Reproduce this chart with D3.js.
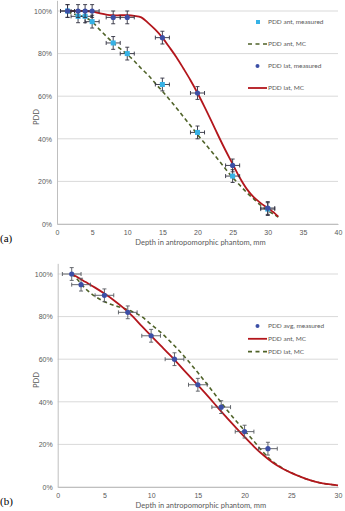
<!DOCTYPE html>
<html>
<head>
<meta charset="utf-8">
<script src="https://cdn.jsdelivr.net/npm/d3@7"></script>
<style>
  body { margin: 0; background: #fff; }
  svg { display: block; font-family: Lato, "Open Sans", sans-serif; }
  .grid line { stroke: #d9d9d9; stroke-width: 1; }
  .tick text { fill: #595959; }
</style>
</head>
<body>
<svg id="chart" width="345" height="511"></svg>
<script>
// ---- panel (a) ----
var depthA   = [1.5, 3, 4, 5, 8, 10, 15, 20, 25, 30];
var antMeasA = [100, 97.5, 97.5, 95, 85, 80, 65.5, 43, 22.5, 7];
var latMeasA = [100, 100, 100, 100, 97, 97, 87.5, 61.5, 27.5, 7.5];
var mcDepthA = [1.5, 2, 3, 4, 5, 6, 7, 8, 9, 10, 11, 12, 13, 14, 15, 16, 17, 18, 19, 20,
                21, 22, 23, 24, 25, 26, 27, 28, 29, 30, 31, 31.5];
var antMcA   = [99.5, 99, 98, 97, 95, 91.5, 88.2, 85, 82.3, 79.6, 76.5, 73, 69.8, 66, 62.3, 58.5, 54.5, 50.3, 46.2, 42,
                38, 34, 30, 25.8, 21.8, 18.3, 14.8, 11.8, 8.8, 6.3, 4.3, 3.2];
var latMcA   = [100, 100, 100, 100, 99.7, 99, 98.3, 98, 98, 98, 97.7, 97, 94.3, 91.2, 87.5, 83, 78.3, 73, 67.5, 61.5,
                55, 48.2, 41.2, 34.5, 28.2, 21.8, 16.5, 12.6, 9.8, 7.5, 5, 3.5];
var xTicksA  = [0, 5, 10, 15, 20, 25, 30, 35, 40];

// ---- panel (b) ----
var depthB   = [1.5, 2.5, 5, 7.5, 10, 12.5, 15, 17.5, 20, 22.5];
var avgMeasB = [100, 95, 90, 82, 71, 60, 48, 37.5, 26, 18];
var mcDepthB = [1.5, 2, 3, 4, 5, 6, 7, 8, 9, 10, 11, 12, 13, 14, 15, 16, 17, 18, 19, 20,
                21, 22, 23, 24, 25, 26, 27, 28, 29, 30];
var antMcB   = [100, 98.8, 96.2, 93.6, 90.8, 87.7, 84.2, 80.2, 75.5, 71, 66.5, 62, 57.3, 52.5, 47.8, 43, 38, 33, 28.2, 23.5,
                19, 15, 11.5, 8.8, 6.6, 4.8, 3.2, 2, 1.3, 0.8];
var latMcB   = [100, 98, 93, 89.5, 87, 85.3, 84, 82.3, 80, 76.3, 72.7, 68.5, 64, 59, 53.7, 48.2, 42.5, 36.8, 31.5, 26.5,
                21.5, 16.3, 12, 9, 6.7, 4.8, 3.2, 2, 1.3, 0.8];
var xTicksB  = [0, 5, 10, 15, 20, 25, 30];

var yTicks = [0, 20, 40, 60, 80, 100];
var xErr = 1, yErr = 3;

var cyan = "#36b2e6", navy = "#3c4fa6", red = "#b3161c", olive = "#4f6228";

var svg = d3.select("svg#chart");

function zip(xs, ys) { return xs.map(function(x, i) { return [x, ys[i]]; }); }

function panel(opt) {
  var g = svg.append("g");
  var x = d3.scaleLinear().domain(opt.xDomain).range([opt.left, opt.right]);
  var y = d3.scaleLinear().domain([0, 105]).range([opt.bottom, opt.bottom - 105 * 2.13]);

  // gridlines
  g.append("g").attr("class", "grid")
    .selectAll("line").data(yTicks).enter().append("line")
    .attr("x1", opt.left).attr("x2", opt.right)
    .attr("y1", function(d) { return y(d); }).attr("y2", function(d) { return y(d); });

  // axes
  var yAxis = d3.axisLeft(y).tickValues(yTicks).tickSize(0).tickPadding(5)
    .tickFormat(function(d) { return d + "%"; });
  g.append("g").attr("transform", "translate(" + opt.left + ",0)").call(yAxis)
    .call(function(a) { a.select(".domain").attr("stroke", "#bfbfbf"); })
    .selectAll("text").style("font-size", "7px");

  var xAxis = d3.axisBottom(x).tickValues(opt.xTicks).tickSize(0).tickPadding(6);
  g.append("g").attr("transform", "translate(0," + opt.bottom + ")").call(xAxis)
    .call(function(a) { a.select(".domain").attr("stroke", "#bfbfbf"); })
    .selectAll("text").style("font-size", "7px");

  g.append("text")
    .attr("x", (opt.left + opt.right) / 2 + 3).attr("y", opt.bottom + 21)
    .attr("text-anchor", "middle").attr("fill", "#595959").style("font-size", "7.5px")
    .text("Depth in antropomorphic phantom, mm");

  g.append("text")
    .attr("transform", "translate(39," + (opt.bottom - 107) + ") rotate(-90)")
    .attr("text-anchor", "middle").attr("fill", "#595959").style("font-size", "7.5px")
    .text("PDD");

  g.append("text")
    .attr("x", 0).attr("y", opt.bottom + 18)
    .attr("fill", "#000").style("font-family", "'Liberation Serif', serif").style("font-size", "11px")
    .text(opt.tag);

  // MC curves
  var line = d3.line().curve(d3.curveCatmullRom)
    .x(function(d) { return x(d[0]); }).y(function(d) { return y(d[1]); });

  opt.curves.forEach(function(c) {
    g.append("path").datum(zip(c.xs, c.ys))
      .attr("d", line).attr("fill", "none")
      .attr("stroke", c.color).attr("stroke-width", c.dash ? 1.6 : 1.8)
      .attr("stroke-dasharray", c.dash ? "4,3" : null);
  });

  // measured points with error bars
  opt.points.forEach(function(p) {
    var pts = zip(p.xs, p.ys);
    var eb = g.append("g").attr("stroke", opt.errColor).attr("stroke-width", 0.9);
    pts.forEach(function(d) {
      var cx = x(d[0]), cy = y(d[1]);
      var x0 = x(d[0] - xErr), x1 = x(d[0] + xErr);
      var y0 = y(d[1] - yErr), y1 = y(d[1] + yErr);
      eb.append("line").attr("x1", x0).attr("x2", x1).attr("y1", cy).attr("y2", cy);
      eb.append("line").attr("x1", x0).attr("x2", x0).attr("y1", cy - 2).attr("y2", cy + 2);
      eb.append("line").attr("x1", x1).attr("x2", x1).attr("y1", cy - 2).attr("y2", cy + 2);
      eb.append("line").attr("x1", cx).attr("x2", cx).attr("y1", y0).attr("y2", y1);
      eb.append("line").attr("x1", cx - 2).attr("x2", cx + 2).attr("y1", y0).attr("y2", y0);
      eb.append("line").attr("x1", cx - 2).attr("x2", cx + 2).attr("y1", y1).attr("y2", y1);
    });
    if (p.shape === "square") {
      g.append("g").selectAll("rect").data(pts).enter().append("rect")
        .attr("x", function(d) { return x(d[0]) - 2.5; })
        .attr("y", function(d) { return y(d[1]) - 2.5; })
        .attr("width", 5).attr("height", 5).attr("fill", p.color);
    } else {
      g.append("g").selectAll("circle").data(pts).enter().append("circle")
        .attr("cx", function(d) { return x(d[0]); })
        .attr("cy", function(d) { return y(d[1]); })
        .attr("r", 2.6).attr("fill", p.color);
    }
  });

  // legend
  var lg = g.append("g");
  opt.legend.forEach(function(l, i) {
    var ly = opt.legendTop + i * opt.legendStep;
    if (l.kind === "square") {
      lg.append("rect").attr("x", 256).attr("y", ly - 2).attr("width", 4).attr("height", 4).attr("fill", l.color);
    } else if (l.kind === "dot") {
      lg.append("circle").attr("cx", 257.5).attr("cy", ly).attr("r", 2).attr("fill", l.color);
    } else {
      lg.append("line").attr("x1", 248).attr("x2", 267).attr("y1", ly).attr("y2", ly)
        .attr("stroke", l.color).attr("stroke-width", l.kind === "dash" ? 1.6 : 1.8)
        .attr("stroke-dasharray", l.kind === "dash" ? "4,3.5" : null);
    }
    lg.append("text").attr("x", 268).attr("y", ly).attr("dy", "0.33em")
      .attr("fill", "#595959").style("font-size", "6.5px").text(l.label);
  });
}

panel({
  tag: "(a)", xDomain: [0, 40], xTicks: xTicksA,
  left: 57, right: 338, bottom: 224, errColor: "#303040",
  curves: [
    { xs: mcDepthA, ys: antMcA, color: olive, dash: true },
    { xs: mcDepthA, ys: latMcA, color: red, dash: false }
  ],
  points: [
    { xs: depthA, ys: antMeasA, color: cyan, shape: "square" },
    { xs: depthA, ys: latMeasA, color: navy, shape: "circle" }
  ],
  legendTop: 22, legendStep: 22,
  legend: [
    { label: "PDD ant, measured", kind: "square", color: cyan },
    { label: "PDD ant, MC", kind: "dash", color: olive },
    { label: "PDD lat, measured", kind: "dot", color: navy },
    { label: "PDD lat, MC", kind: "line", color: red }
  ]
});

panel({
  tag: "(b)", xDomain: [0, 30], xTicks: xTicksB,
  left: 57.7, right: 338, bottom: 487, errColor: "#55585f",
  curves: [
    { xs: mcDepthB, ys: latMcB, color: olive, dash: true },
    { xs: mcDepthB, ys: antMcB, color: red, dash: false }
  ],
  points: [
    { xs: depthB, ys: avgMeasB, color: navy, shape: "circle" }
  ],
  legendTop: 326, legendStep: 12.8,
  legend: [
    { label: "PDD avg, measured", kind: "dot", color: navy },
    { label: "PDD ant, MC", kind: "line", color: red },
    { label: "PDD lat, MC", kind: "dash", color: olive }
  ]
});
</script>
</body>
</html>
